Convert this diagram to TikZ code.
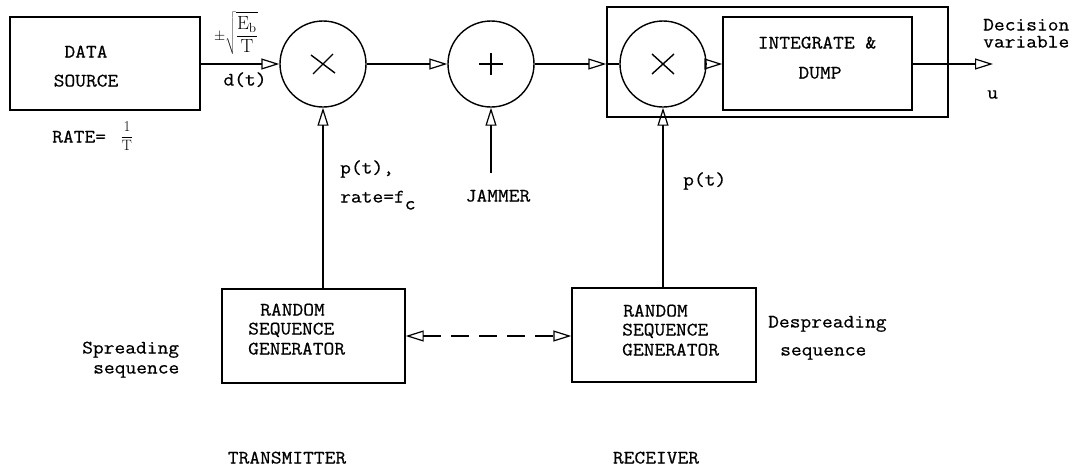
\documentclass[tikz,border=0pt]{standalone}
\usepackage{fontspec}
\setmonofont{Latin Modern Mono}[FakeStretch=1.1, FakeBold=0.6]
\usetikzlibrary{arrows.meta}
\tikzset{
  x=1pt, y=-1pt,
  opentip/.tip={Triangle[open,length=18pt,width=11pt,line width=1.2pt]},
  wire/.style={line width=1.4pt, -opentip},
  plain/.style={line width=1.4pt},
  blk/.style={draw, line width=1.4pt, inner sep=0pt},
  junc/.style={circle, draw, line width=1.4pt, minimum size=86pt, inner sep=0pt},
  lbl/.style={font=\ttfamily\fontsize{19}{21}\selectfont, inner sep=0pt, text height=11pt, text depth=0pt},
  mathlbl/.style={font=\fontsize{19}{21}\selectfont, inner sep=0pt},
}
\begin{document}
\begin{tikzpicture}
\useasboundingbox (0,0) rectangle (1077,469);

% blocks
\node[blk, minimum width=190pt, minimum height=93pt] (ds) at (105,63.5) {};
\node[blk, minimum width=341pt, minimum height=110pt] (rx) at (777.5,62) {};
\node[blk, minimum width=189pt, minimum height=93pt] (id) at (817.5,63.5) {};
\node[blk, minimum width=183pt, minimum height=94pt] (gen1) at (313.5,336) {};
\node[blk, minimum width=184pt, minimum height=94pt] (gen2) at (664,335) {};

% junctions
\node[junc] (m1) at (323,64) {};
\node[junc] (sum) at (491,64) {};
\node[junc] (m2) at (663,64) {};

% symbols inside the junctions
\draw[plain] ([shift={(-12,-9)}]m1.center) -- ([shift={(12,9)}]m1.center);
\draw[plain] ([shift={(-10,10)}]m1.center) -- ([shift={(10,-10)}]m1.center);
\draw[plain] ([shift={(-12,0)}]sum.center) -- ([shift={(12,0)}]sum.center);
\draw[plain] ([shift={(0,-11)}]sum.center) -- ([shift={(0,11)}]sum.center);
\draw[plain] ([shift={(-11,-10)}]m2.center) -- ([shift={(11,10)}]m2.center);
\draw[plain] ([shift={(-11,10)}]m2.center) -- ([shift={(11,-10)}]m2.center);

% free ends
\coordinate (rxin) at (rx.west |- sum.east);
\coordinate (out) at (993,64);
\coordinate (jam) at (491,173);

% connectors
\draw[wire] (ds.east |- m1.west) -- (m1.west);
\draw[wire] (m1.east) -- (sum.west);
\draw[wire] (sum.east) -- (rxin);
\draw[plain] (rxin) -- (m2.west);
\draw[wire] (m2.east) -- (id.west |- m2.east);
\draw[wire] (id.east |- out) -- (out);
\draw[wire] (m1.south |- gen1.north) -- (m1.south);
\draw[wire] (jam) -- (sum.south);
\draw[wire] (m2.south |- gen2.north) -- (m2.south);
\draw[line width=1.4pt, dash pattern=on 18pt off 10pt, opentip-opentip] (gen1.east) -- (gen2.west |- gen1.east);

% texts
\node[lbl] (t1) at (86,52) {DATA};
\node[lbl] (t2) at (86,81) {SOURCE};
\node[lbl, anchor=west] (t3) at (52,137) {RATE=};
\node[mathlbl, font=\fontsize{15}{17}\selectfont] (t4) at (127,136) {$\displaystyle\frac{\mathrm{1}}{\mathrm{T}}$};
\node[mathlbl] (t5) at (236,33) {$\scriptstyle\pm\displaystyle\sqrt{\frac{\mathrm{E}_{\mathrm{b}}}{\mathrm{T}}}$};
\node[lbl] (t6) at (245,80) {d(t)};
\node[lbl] (t7) at (817,43) {INTEGRATE \&};
\node[lbl] (t8) at (820,73) {DUMP};
\node[lbl, anchor=west] (t9) at (983,25) {Decision};
\node[lbl, anchor=west] (t10) at (983,42) {variable};
\node[lbl, anchor=west] (t11) at (987,93) {u};
\node[lbl, anchor=west] (t12) at (340,168) {p(t),};
\node[lbl, anchor=west] (t13) at (340,197) {rate=f\raisebox{-7pt}{c}};
\node[lbl] (t14) at (498,196) {JAMMER};
\node[lbl, anchor=west] (t15) at (683,180) {p(t)};
\node[lbl, anchor=west] (t16) at (260,310) {RANDOM};
\node[lbl, anchor=west] (t17) at (248,329) {SEQUENCE};
\node[lbl, anchor=west] (t18) at (248,349) {GENERATOR};
\node[lbl, anchor=west] (t19) at (623,311) {RANDOM};
\node[lbl, anchor=west] (t20) at (622,330) {SEQUENCE};
\node[lbl, anchor=west] (t21) at (622,350) {GENERATOR};
\node[lbl, anchor=west] (t22) at (82,348) {Spreading};
\node[lbl, anchor=west] (t23) at (93,368) {sequence};
\node[lbl, anchor=west] (t24) at (768,322) {Despreading};
\node[lbl, anchor=west] (t25) at (780,350) {sequence};
\node[lbl] (t26) at (287,458) {TRANSMITTER};
\node[lbl] (t27) at (656,458) {RECEIVER};
\end{tikzpicture}
\end{document}
